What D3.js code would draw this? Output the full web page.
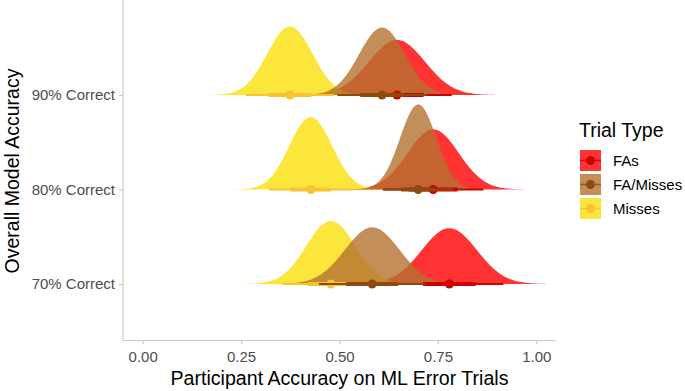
<!DOCTYPE html>
<html lang="en">
<head>
<meta charset="UTF-8">
<title>Trial Type accuracy</title>
<script src="https://d3js.org/d3.v7.min.js"></script>
<style>
  body { margin: 0; background: #fff; }
  svg { font-family: "Liberation Sans", Arial, sans-serif; }
</style>
</head>
<body>
<div id="chart"></div>
<script>
// rows on the y axis (bottom to top)
var conditions = ["70% Correct", "80% Correct", "90% Correct"];
var trialTypes = ["FAs", "FA/Misses", "Misses"];
var xTicks = [0, 0.25, 0.5, 0.75, 1];

// posterior means and sds (order follows conditions)
var meanFAs       = [0.779, 0.738, 0.646];
var sdFAs         = [0.070, 0.065, 0.071];
var meanFAMisses  = [0.583, 0.700, 0.608];
var sdFAMisses    = [0.069, 0.046, 0.058];
var meanMisses    = [0.478, 0.427, 0.374];
var sdMisses      = [0.062, 0.054, 0.057];

var fills  = { "FAs": "rgba(255,0,0,0.8)", "FA/Misses": "rgba(181,114,49,0.8)", "Misses": "rgba(252,224,11,0.8)" };
var pointCol = { "FAs": "#CC0000", "FA/Misses": "#8E4A0C", "Misses": "#F9C231" };

var series = [
  { type: "FAs", mean: meanFAs, sd: sdFAs },
  { type: "Misses", mean: meanMisses, sd: sdMisses },
  { type: "FA/Misses", mean: meanFAMisses, sd: sdFAMisses }
];

var W = 685, H = 391;
var svg = d3.select("#chart").append("svg").attr("width", W).attr("height", H);

var x = d3.scaleLinear().domain([-0.05, 1.05]).range([123, 556]);
var y = d3.scalePoint().domain(conditions).range([284, 95]);
var band = y(conditions[0]) - y(conditions[1]);

// density normalised so the tallest slab fills 0.9 of a band
var allSd = [].concat(sdFAs, sdFAMisses, sdMisses);
var maxPdf = 1 / (d3.min(allSd) * Math.sqrt(2 * Math.PI));
function pdf(v, m, s) {
  return Math.exp(-0.5 * Math.pow((v - m) / s, 2)) / (s * Math.sqrt(2 * Math.PI));
}
var hScale = d3.scaleLinear().domain([0, maxPdf]).range([0, 0.9 * band]);

var area = d3.area()
  .x(d => x(d[0]))
  .y0(d => d[2])
  .y1(d => d[2] - hScale(d[1]))
  .curve(d3.curveBasis);

// axes
var axisCol = "#C8C8C8";
svg.append("line").attr("x1", 123).attr("x2", 123).attr("y1", 0).attr("y2", 340.5)
  .attr("stroke", axisCol).attr("stroke-width", 1.1);
svg.append("line").attr("x1", 123).attr("x2", 556).attr("y1", 340.5).attr("y2", 340.5)
  .attr("stroke", axisCol).attr("stroke-width", 1.1);

var xAxis = svg.append("g").attr("transform", "translate(0,340.5)")
  .call(d3.axisBottom(x).tickValues(xTicks).tickFormat(d3.format(".2f")).tickSize(4).tickPadding(4));
var yAxis = svg.append("g").attr("transform", "translate(123,0)")
  .call(d3.axisLeft(y).tickSize(4).tickPadding(4));
[xAxis, yAxis].forEach(a => {
  a.select(".domain").remove();
  a.selectAll(".tick line").attr("stroke", axisCol).attr("stroke-width", 1.1);
  a.selectAll(".tick text").attr("fill", "#4D4D4D").style("font-size", "15px")
    .style("font-family", "Liberation Sans, Arial, sans-serif");
});
xAxis.selectAll(".tick text").attr("dy", "0.9em");

svg.append("text").attr("x", x(0.5)).attr("y", 385).attr("text-anchor", "middle")
  .style("font-size", "19.6px").attr("fill", "#000").text("Participant Accuracy on ML Error Trials");
svg.append("text").attr("transform", "translate(19,171) rotate(-90)").attr("text-anchor", "middle")
  .style("font-size", "19.5px").attr("fill", "#000").text("Overall Model Accuracy");

// slabs
var slabs = svg.append("g");
series.forEach(s => {
  conditions.forEach((c, i) => {
    var m = s.mean[i], sd = s.sd[i], base = y(c);
    var pts = d3.range(-4.8, 4.8001, 0.05).map(z => [m + z * sd, pdf(m + z * sd, m, sd), base]);
    slabs.append("path").datum(pts).attr("d", area).attr("fill", fills[s.type]);
  });
});

// point intervals (66% thick, 95% thin)
var ints = svg.append("g");
series.forEach(s => {
  conditions.forEach((c, i) => {
    var m = s.mean[i], sd = s.sd[i], base = y(c);
    ints.append("line").attr("x1", x(m - 1.96 * sd)).attr("x2", x(m + 1.96 * sd))
      .attr("y1", base).attr("y2", base).attr("stroke", pointCol[s.type]).attr("stroke-width", 1.8);
    ints.append("line").attr("x1", x(m - 0.954 * sd)).attr("x2", x(m + 0.954 * sd))
      .attr("y1", base).attr("y2", base).attr("stroke", pointCol[s.type]).attr("stroke-width", 4);
    ints.append("circle").attr("cx", x(m)).attr("cy", base).attr("r", 4.5).attr("fill", pointCol[s.type]);
  });
});

// legend
var lg = svg.append("g").attr("transform", "translate(579,0)");
lg.append("text").attr("x", 0).attr("y", 137).style("font-size", "19.5px").attr("fill", "#000").text("Trial Type");
trialTypes.forEach((t, i) => {
  var top = 150 + i * 24;
  lg.append("rect").attr("x", 1).attr("y", top).attr("width", 21).attr("height", 21).attr("fill", fills[t]);
  lg.append("line").attr("x1", 1).attr("x2", 22).attr("y1", top + 10.5).attr("y2", top + 10.5)
    .attr("stroke", pointCol[t]).attr("stroke-width", 1.5).attr("opacity", 0.8);
  lg.append("circle").attr("cx", 11.5).attr("cy", top + 10.5).attr("r", 4.5).attr("fill", pointCol[t]);
  lg.append("text").attr("x", 34).attr("y", top + 16).style("font-size", "15px").attr("fill", "#000").text(t);
});
</script>
</body>
</html>
